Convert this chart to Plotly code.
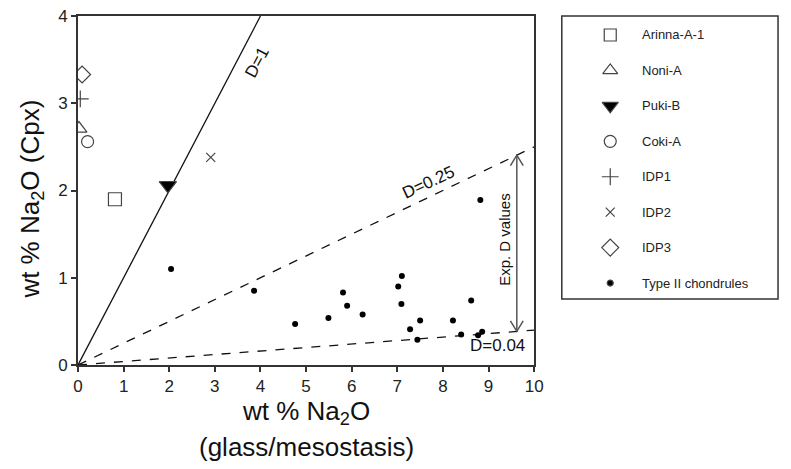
import plotly.graph_objects as go

# ---- data ----
samples = ["Arinna-A-1", "Noni-A", "Puki-B", "Coki-A", "IDP1", "IDP2", "IDP3"]
sample_glass = [0.81, 0.02, 1.97, 0.21, 0.05, 2.91, 0.09]
sample_cpx = [1.90, 2.71, 2.06, 2.56, 3.05, 2.38, 3.33]
sample_symbols = ["square-open", "triangle-up-open", "triangle-down", "circle-open",
                  "cross-thin-open", "x-thin-open", "diamond-open"]
sample_sizes = [13, 14, 15, 12, 12, 9, 13]

chond_glass = [2.04, 3.86, 4.76, 5.49, 5.81, 5.90, 6.24, 7.02, 7.10, 7.09, 7.28, 7.50,
               7.44, 8.22, 8.40, 8.62, 8.77, 8.86, 8.82]
chond_cpx = [1.10, 0.85, 0.47, 0.54, 0.83, 0.68, 0.58, 0.90, 1.02, 0.70, 0.41, 0.51,
             0.29, 0.51, 0.35, 0.74, 0.34, 0.38, 1.89]

D_values = [1.0, 0.25, 0.04]
D_labels = ["D=1", "D=0.25", "D=0.04"]
x_ticks = list(range(0, 11))
y_ticks = list(range(0, 5))
arrow_x = 9.62

FONT = "Liberation Sans, Arial, sans-serif"
INK = "#333333"

W, H = 791, 469
ML, MR, MT, MB = 78, 2, 16, 104
PW = W - ML - MR
PH = H - MT - MB
plot_right = 540
main_dom = (plot_right - ML) / PW

fig = go.Figure()

# D lines
xmax, ymax = 10.0, 4.0
for d in D_values:
    xe = min(xmax, ymax / d)
    fig.add_trace(go.Scatter(
        x=[0, xe], y=[0, d * xe], mode="lines",
        line=dict(color="#111111", width=1.3, dash="solid" if d == 1 else "dash"),
        hoverinfo="skip", showlegend=False))

# sample points
for name, gx, cy, sym, sz in zip(samples, sample_glass, sample_cpx, sample_symbols, sample_sizes):
    fill = "#000000" if sym == "triangle-down" else "#444444"
    fig.add_trace(go.Scatter(
        x=[gx], y=[cy], mode="markers", name=name,
        marker=dict(symbol=sym, size=sz, color=fill,
                    line=dict(color="#444444", width=1.2)),
        showlegend=False))

fig.add_trace(go.Scatter(
    x=chond_glass, y=chond_cpx, mode="markers", name="Type II chondrules",
    marker=dict(symbol="circle", size=6, color="#000000"), showlegend=False))

# double arrow between D=0.25 and D=0.04
y_top = D_values[1] * arrow_x
y_bot = D_values[2] * arrow_x
fig.add_trace(go.Scatter(x=[arrow_x, arrow_x], y=[y_bot, y_top], mode="lines",
                         line=dict(color="#555555", width=1.5), hoverinfo="skip",
                         showlegend=False))
dx, dy = 0.14, 0.12
fig.add_trace(go.Scatter(x=[arrow_x - dx, arrow_x, arrow_x + dx], y=[y_top - dy, y_top, y_top - dy],
                         mode="lines", line=dict(color="#555555", width=1.5),
                         hoverinfo="skip", showlegend=False))
fig.add_trace(go.Scatter(x=[arrow_x - dx, arrow_x, arrow_x + dx], y=[y_bot + dy, y_bot, y_bot + dy],
                         mode="lines", line=dict(color="#555555", width=1.5),
                         hoverinfo="skip", showlegend=False))

# line labels
def label(x, y, text, angle=0, size=17):
    fig.add_annotation(x=x, y=y, text=text, showarrow=False, textangle=angle,
                       xanchor="center", yanchor="middle",
                       font=dict(family=FONT, size=size, color="#111"))

label(3.92, 3.47, D_labels[0], -62)
label(7.68, 2.09, D_labels[1], -25)
label(9.2, 0.22, D_labels[2])
label(9.35, 1.44, "Exp. D values", -90, 15)

# ---- manual legend in its own axes ----
leg_names = samples + ["Type II chondrules"]
leg_symbols = sample_symbols + ["circle"]
leg_sizes = [12, 13, 14, 12, 12, 9, 13, 6]
for i, (nm, sym, sz) in enumerate(zip(leg_names, leg_symbols, leg_sizes)):
    fill = "#000000" if sym in ("triangle-down", "circle") else "#444444"
    fig.add_trace(go.Scatter(
        x=[0.224], y=[i], mode="markers", xaxis="x2", yaxis="y2",
        marker=dict(symbol=sym, size=sz, color=fill, line=dict(color="#444444", width=1.2)),
        hoverinfo="skip", showlegend=False))
    fig.add_annotation(x=0.36, y=i, xref="x2", yref="y2", text=nm, showarrow=False,
                       xanchor="left", yanchor="middle",
                       font=dict(family=FONT, size=13, color="#222"))

fig.add_shape(type="rect", xref="x2 domain", yref="y2 domain", x0=0, x1=1, y0=0, y1=1,
              line=dict(color=INK, width=1.5))

# axis titles
fig.add_annotation(xref="paper", yref="paper", x=(30 - ML) / PW, y=(H - MB - 199) / PH,
                   text="wt % Na<sub>2</sub>O (Cpx)", textangle=-90, showarrow=False,
                   xanchor="center", yanchor="middle",
                   font=dict(family=FONT, size=26, color="#111"))
cx = ((ML + plot_right) / 2 - ML) / PW
fig.add_annotation(xref="paper", yref="paper", x=cx, y=(H - MB - 412) / PH,
                   text="wt % Na<sub>2</sub>O", showarrow=False,
                   xanchor="center", yanchor="middle",
                   font=dict(family=FONT, size=26, color="#111"))
fig.add_annotation(xref="paper", yref="paper", x=cx, y=(H - MB - 447) / PH,
                   text="(glass/mesostasis)", showarrow=False,
                   xanchor="center", yanchor="middle",
                   font=dict(family=FONT, size=26, color="#111"))

axis_common = dict(showgrid=False, zeroline=False, showline=True, linecolor=INK, linewidth=2,
                   mirror=True, ticks="outside", ticklen=5, tickwidth=1.5, tickcolor=INK,
                   tickfont=dict(family=FONT, size=17, color="#222"))

fig.update_layout(
    width=W, height=H,
    margin=dict(l=ML, r=MR, t=MT, b=MB),
    paper_bgcolor="white", plot_bgcolor="white",
    showlegend=False,
    xaxis=dict(domain=[0, main_dom], range=[0, 10], tickvals=x_ticks, **axis_common),
    yaxis=dict(domain=[0, 1], range=[0, 4], tickvals=y_ticks, **axis_common),
    xaxis2=dict(domain=[(568 - ML) / PW, (787 - ML) / PW], range=[0, 1], visible=False,
                anchor="y2"),
    yaxis2=dict(domain=[(H - MB - 299) / PH, 1], range=[7.45, -0.536], visible=False,
                anchor="x2"),
)

fig.write_html("out.html")
